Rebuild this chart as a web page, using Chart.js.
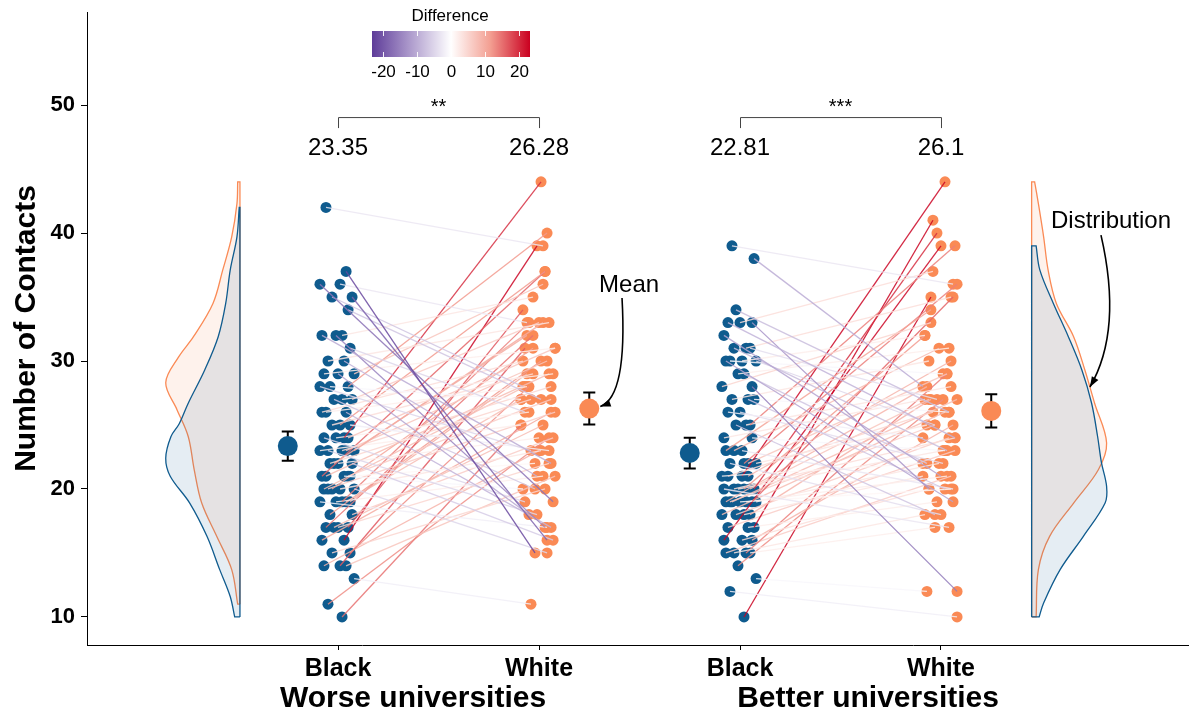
<!DOCTYPE html>
<html>
<head>
<meta charset="utf-8">
<script src="https://cdn.jsdelivr.net/npm/chart.js@4.4.1/dist/chart.umd.min.js"></script>
<style>
html, body { margin: 0; padding: 0; background: #fff; }
</style>
</head>
<body>
<canvas id="contacts" width="1190" height="715"></canvas>
<script>
// x positions: 1 = Black / 2 = White (worse), 3 = Black / 4 = White (better)
const raceLabels = ["Black", "White", "Black", "White"]
const groupLabels = ["Worse universities", "Better universities"]
const yTicks = [10, 20, 30, 40, 50]

// paired contacts, one entry per subject (Black, White)
const worseBlack = [42, 37, 36, 36, 35, 35, 34, 32, 32, 32, 31, 30, 30, 29, 29, 29, 28, 28, 28, 27, 27, 27, 26, 26, 26,
  25, 25, 25, 24, 24, 24, 24, 23, 23, 23, 23, 23, 22, 22, 22, 22, 21, 21, 21, 21, 21, 20, 20, 20, 20, 20,
  19, 19, 19, 19, 19, 18, 18, 17, 17, 17, 17, 16, 16, 15, 15, 14, 14, 14, 13, 11, 10]
const worseWhite = [39, 15, 19, 33, 16, 28, 27, 22, 35, 17, 26, 33, 21, 31, 18, 36, 27, 40, 23, 29, 20, 33, 28, 17, 30,
  37, 23, 29, 44, 19, 31, 26, 33, 18, 28, 25, 30, 27, 16, 32, 24, 29, 22, 37, 20, 27, 31, 23, 28, 15, 26,
  33, 21, 29, 17, 27, 30, 24, 32, 22, 34, 25, 39, 26, 28, 20, 31, 23, 21, 11, 24, 25]
const betterBlack = [39, 38, 34, 33, 33, 33, 32, 31, 31, 31, 30, 30, 30, 30, 29, 29, 28, 28, 27, 27, 27, 26, 26,
  25, 25, 25, 24, 24, 23, 23, 23, 22, 22, 22, 22, 21, 21, 21, 21, 20, 20, 20, 20, 20, 20,
  19, 19, 19, 19, 19, 19, 19, 18, 18, 18, 18, 17, 17, 17, 16, 16, 16, 15, 15, 15, 15, 14, 13, 12, 10]
const betterWhite = [36, 28, 26, 37, 24, 20, 21, 35, 27, 23, 32, 19, 25, 29, 22, 31, 12, 33, 20, 30, 26, 24, 22,
  39, 18, 28, 27, 23, 31, 20, 34, 29, 25, 18, 36, 26, 30, 22, 44, 40, 24, 27, 17, 32, 23,
  35, 25, 21, 28, 20, 22, 27, 27, 26, 21, 24, 41, 23, 19, 39, 20, 25, 18, 29, 21, 17, 27, 12, 10, 35]

// horizontal spread of the dots
const jitter = [-0.06, 0.04, -0.09, 0.01, 0.07, -0.03, 0.05, -0.08, 0.02, -0.01,
  0.06, -0.05, 0.03, -0.07, 0.00, 0.08, -0.04, 0.05, -0.09, 0.02,
  -0.02, 0.07, -0.06, 0.04, -0.08, 0.01, 0.06, -0.03, 0.03, -0.07,
  0.05, -0.01, 0.08, -0.05, 0.02, -0.09, 0.04, -0.04, 0.07, -0.02,
  0.00, -0.06, 0.06, -0.08, 0.03, 0.05, -0.03, 0.01, -0.07, 0.08,
  -0.05, 0.02, -0.01, 0.06, -0.09, 0.04, -0.04, 0.07, -0.06, 0.00,
  0.05, -0.02, 0.03, -0.08, 0.06, -0.03, 0.01, -0.07, 0.04, 0.08, -0.05, 0.02]

// group means with standard errors
const means = [23.35, 26.28, 22.81, 26.1]
const meanErr = [1.15, 1.25, 1.2, 1.3]
const meanLabels = ["23.35", "26.28", "22.81", "26.1"]
const sigLabels = ["**", "***"]

// half violins: contact value and relative width
const worseBlackDensY = [10, 11.6, 13.7, 16.3, 18.9, 21.0, 22.4, 24.1, 25.1, 26.7, 29.3, 31.9, 34.5, 37.1, 39.7, 42]
const worseBlackDensW = [0.07, 0.13, 0.27, 0.44, 0.67, 0.93, 0.99, 0.92, 0.81, 0.69, 0.47, 0.29, 0.19, 0.13, 0.04, 0.01]
const worseWhiteDensY = [11, 13.7, 16.3, 18.9, 21.5, 24.1, 26.2, 28.3, 30.3, 31.9, 34.5, 37.1, 39.7, 42.3, 44]
const worseWhiteDensW = [0.03, 0.11, 0.31, 0.51, 0.61, 0.69, 0.84, 0.99, 0.82, 0.62, 0.36, 0.23, 0.11, 0.04, 0.03]
const betterBlackDensY = [10, 11.1, 13.7, 16.3, 18.9, 20.2, 22.1, 24.1, 26.7, 29.3, 31.9, 34.5, 37.1, 39]
const betterBlackDensW = [0.10, 0.16, 0.38, 0.69, 0.98, 1.0, 0.93, 0.88, 0.80, 0.67, 0.49, 0.29, 0.11, 0.06]
const betterWhiteDensY = [10, 13.7, 16.3, 18.9, 21.5, 23.6, 26.7, 29.3, 31.9, 34.5, 37.1, 39.7, 42.3, 44]
const betterWhiteDensW = [0.06, 0.09, 0.24, 0.56, 0.89, 1.0, 0.84, 0.71, 0.56, 0.33, 0.22, 0.16, 0.09, 0.04]

const diffTicks = [-20, -10, 0, 10, 20]
const diffLimit = 23.4

const BLUE = "#0f5b8e"
const ORANGE = "#fa8a55"
const FONT = "'Liberation Sans', Arial, sans-serif"
Chart.defaults.font.family = FONT

// white -> purple / red, as in the legend
const gradStops = [
    [-1, [94, 60, 153]],
    [-0.5, [176, 158, 206]],
    [0, [255, 255, 255]],
    [0.5, [243, 158, 145]],
    [1, [202, 0, 32]]
]
const diffColour = (d, alpha) => {
    const t = Math.max(-1, Math.min(1, d / diffLimit))
    for (let i = 0; i < gradStops.length - 1; i++) {
        const [t0, c0] = gradStops[i], [t1, c1] = gradStops[i + 1]
        if (t >= t0 && t <= t1) {
            const f = (t - t0) / (t1 - t0)
            const c = c0.map((v, k) => Math.round(v + (c1[k] - v) * f))
            return `rgba(${c[0]},${c[1]},${c[2]},${alpha})`
        }
    }
    return `rgba(255,255,255,${alpha})`
}

const pointsFor = (vals, xPos, shift) =>
    vals.map((v, i) => ({ x: xPos + jitter[(i + shift) % jitter.length], y: v }))

const violinWidth = 0.373
const halfViolin = (base, side, ys, ws) => {
    const pts = ys.map((v, i) => ({ x: base + side * ws[i] * violinWidth, y: v }))
    const first = pts[0], last = pts[pts.length - 1]
    return [{ x: base, y: ys[0] }, first, ...pts, last,
        { x: base, y: ys[ys.length - 1] }, { x: base, y: ys[ys.length - 1] }, { x: base, y: ys[0] }]
}

const datasets = []

const pairSets = [
    [worseBlack, worseWhite, 1, 2, 0, 19],
    [betterBlack, betterWhite, 3, 4, 37, 53]
]
pairSets.forEach(([blk, wht, xb, xw, sb, sw]) => {
    const bp = pointsFor(blk, xb, sb)
    const wp = pointsFor(wht, xw, sw)
    bp.forEach((p, i) => {
        datasets.push({
            data: [p, wp[i]], showLine: true, borderWidth: 1.3,
            borderColor: diffColour(wht[i] - blk[i], 0.85),
            pointRadius: 0, order: 1
        })
    })
    datasets.push({ data: bp, backgroundColor: BLUE, pointRadius: 5.5, pointBorderWidth: 0, order: 2 })
    datasets.push({ data: wp, backgroundColor: ORANGE, pointRadius: 5.5, pointBorderWidth: 0, order: 2 })
})

// half violins
const violins = [
    [0.512, -1, worseBlackDensY, worseBlackDensW, BLUE, "rgba(15,91,142,0.11)"],
    [0.512, -1, worseWhiteDensY, worseWhiteDensW, ORANGE, "rgba(250,138,85,0.11)"],
    [4.451, 1, betterBlackDensY, betterBlackDensW, BLUE, "rgba(15,91,142,0.11)"],
    [4.451, 1, betterWhiteDensY, betterWhiteDensW, ORANGE, "rgba(250,138,85,0.11)"]
]
violins.forEach(([base, side, ys, ws, line, fill]) => {
    datasets.push({
        data: halfViolin(base, side, ys, ws), showLine: true, tension: 0.35,
        borderColor: line, borderWidth: 1.3, backgroundColor: fill, fill: 'shape',
        pointRadius: 0, order: 3
    })
})

// means with error bars
const meanX = [0.75, 2.25, 2.75, 4.25]
const capW = 0.03
means.forEach((m, i) => {
    const x0 = meanX[i], lo = m - meanErr[i], hi = m + meanErr[i]
    datasets.push({
        data: [{ x: x0 - capW, y: lo }, { x: x0 + capW, y: lo }, { x: x0, y: lo },
            { x: x0, y: hi }, { x: x0 - capW, y: hi }, { x: x0 + capW, y: hi }],
        showLine: true, borderColor: "#000", borderWidth: 2, pointRadius: 0, order: 0.5
    })
})
datasets.push({
    data: means.map((m, i) => ({ x: meanX[i], y: m })),
    backgroundColor: means.map((m, i) => i % 2 ? ORANGE : BLUE),
    pointRadius: 10, pointBorderWidth: 0, order: 0
})

const arrow = (ctx, p0, c, p1) => {
    ctx.beginPath()
    ctx.moveTo(p0.x, p0.y)
    ctx.quadraticCurveTo(c.x, c.y, p1.x, p1.y)
    ctx.stroke()
    const ang = Math.atan2(p1.y - c.y, p1.x - c.x)
    const len = 11, half = 0.35
    ctx.beginPath()
    ctx.moveTo(p1.x, p1.y)
    ctx.lineTo(p1.x - len * Math.cos(ang - half), p1.y - len * Math.sin(ang - half))
    ctx.lineTo(p1.x - len * Math.cos(ang + half), p1.y - len * Math.sin(ang + half))
    ctx.closePath()
    ctx.fill()
}

const overlay = {
    id: 'overlay',
    afterDraw(chart) {
        const { ctx, scales: { x, y }, chartArea } = chart
        const px = (vx, vy) => ({ x: x.getPixelForValue(vx), y: y.getPixelForValue(vy) })
        ctx.save()
        ctx.fillStyle = "#000"
        ctx.textAlign = "center"
        ctx.textBaseline = "middle"

        // mean values above each column
        ctx.font = `24px ${FONT}`
        meanLabels.forEach((t, i) => {
            const p = px(i + 1, 46.6)
            ctx.fillText(t, p.x, p.y)
        })

        // significance brackets
        ctx.strokeStyle = "#444"
        ctx.lineWidth = 1
        sigLabels.forEach((s, g) => {
            const a = px(2 * g + 1, 48.2), b = px(2 * g + 2, 49.06)
            ctx.beginPath()
            ctx.moveTo(a.x + 0.5, a.y)
            ctx.lineTo(a.x + 0.5, b.y + 0.5)
            ctx.lineTo(b.x + 0.5, b.y + 0.5)
            ctx.lineTo(b.x + 0.5, a.y)
            ctx.stroke()
            ctx.font = `20px ${FONT}`
            ctx.fillText(s, (a.x + b.x) / 2, b.y - 10)
        })

        // group titles under the axis
        ctx.font = `bold 30px ${FONT}`
        ;[1.373, 3.637].forEach((v, i) => {
            ctx.fillText(groupLabels[i], x.getPixelForValue(v), chartArea.bottom + 54)
        })

        // annotations
        ctx.font = `24px ${FONT}`
        let p = px(2.448, 35.94)
        ctx.fillText("Mean", p.x, p.y)
        p = px(4.846, 40.94)
        ctx.fillText("Distribution", p.x, p.y)
        ctx.strokeStyle = "#000"
        ctx.lineWidth = 1.6
        arrow(ctx, px(2.413, 34.92), px(2.44, 27.2), px(2.305, 26.45))
        arrow(ctx, px(4.796, 39.84), px(4.905, 32.4), px(4.741, 27.97))

        // colour bar legend
        const bx = 372, bw = 158, by = 31, bh = 26
        const grad = ctx.createLinearGradient(bx, 0, bx + bw, 0)
        gradStops.forEach(([t]) => {
            grad.addColorStop((t + 1) / 2, diffColour(t * diffLimit, 1))
        })
        ctx.fillStyle = grad
        ctx.fillRect(bx, by, bw, bh)
        ctx.font = `17px ${FONT}`
        ctx.fillStyle = "#000"
        ctx.fillText("Difference", bx + bw / 2 - 1, 16)
        ctx.strokeStyle = "rgba(255,255,255,0.9)"
        ctx.lineWidth = 1
        diffTicks.forEach(t => {
            const tx = Math.round(bx + (t + diffLimit) / (2 * diffLimit) * bw) + 0.5
            ctx.beginPath()
            ctx.moveTo(tx, by); ctx.lineTo(tx, by + 5)
            ctx.moveTo(tx, by + bh - 5); ctx.lineTo(tx, by + bh)
            ctx.stroke()
            ctx.fillText(String(t), tx, 72)
        })
        ctx.restore()
    }
}

new Chart(document.getElementById('contacts').getContext('2d'), {
    type: 'scatter',
    data: { datasets },
    options: {
        responsive: false,
        animation: false,
        events: [],
        layout: { autoPadding: false, padding: { top: 12, right: 2, left: 0, bottom: 0 } },
        plugins: { legend: { display: false }, tooltip: { enabled: false } },
        scales: {
            x: {
                type: 'linear', min: -0.249, max: 5.229,
                grid: { display: true, drawOnChartArea: false, drawTicks: true, tickLength: 5, color: "#000" },
                border: { display: true, color: "#000", width: 1 },
                ticks: {
                    color: "#000", padding: 4, maxRotation: 0,
                    font: { size: 25, weight: 'bold' },
                    callback: v => raceLabels[v - 1] || ""
                },
                afterBuildTicks: s => { s.ticks = raceLabels.map((l, i) => ({ value: i + 1 })) },
                afterFit: s => { s.height = 70; s.paddingLeft = 0; s.paddingRight = 0 }
            },
            y: {
                min: 7.81, max: 57.27,
                grid: { display: true, drawOnChartArea: false, drawTicks: true, tickLength: 6, color: "#000" },
                border: { display: true, color: "#000", width: 1 },
                ticks: { color: "#000", padding: 6, font: { size: 22, weight: 'bold' } },
                afterBuildTicks: s => { s.ticks = yTicks.map(v => ({ value: v })) },
                title: {
                    display: true, text: "Number of Contacts", color: "#000",
                    font: { size: 30, weight: 'bold' }, padding: { top: 9, bottom: 0 }
                },
                afterFit: s => { s.width = 87; s.paddingTop = 0; s.paddingBottom = 0 }
            }
        }
    },
    plugins: [overlay]
})
</script>
</body>
</html>
